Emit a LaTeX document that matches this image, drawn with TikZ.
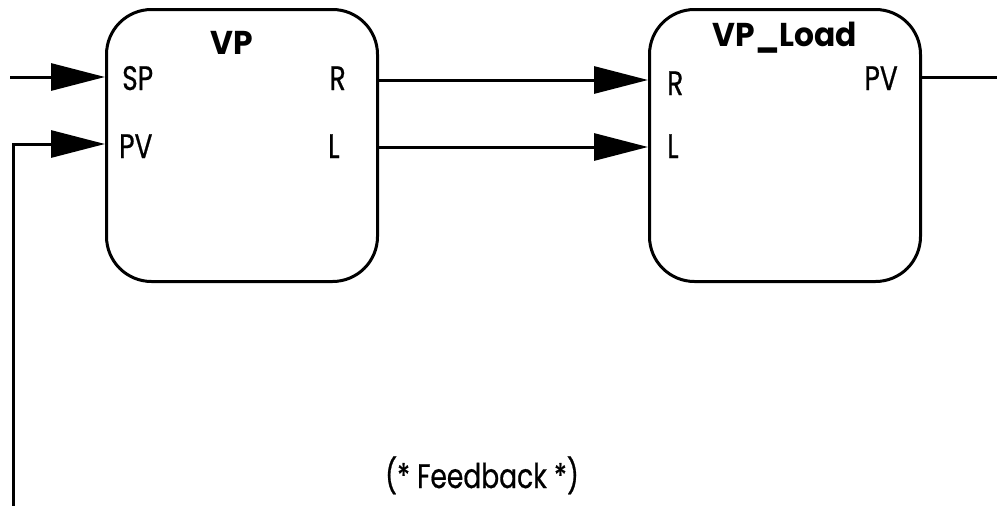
\documentclass[tikz,border=0pt]{standalone}
\usepackage{fontspec}
\setmainfont{Poppins}[FakeStretch=0.78,FakeBold=0.6]
\newfontfamily\titlef{Poppins}[FakeStretch=0.95]
\usetikzlibrary{arrows.meta}
\begin{document}
\begin{tikzpicture}[x=1pt,y=-1pt,
  fb/.style={draw,line width=3pt,rounded corners=45pt,minimum width=271pt,minimum height=272pt,inner sep=0pt},
  wire/.style={line width=3pt},
  arr/.style={wire,-{Triangle[length=54pt,width=27pt]}},
  port/.style={font=\fontsize{34}{34}\selectfont,inner sep=0pt},
  ttl/.style={font=\titlef\bfseries\fontsize{33}{33}\selectfont,inner sep=0pt}]
\useasboundingbox (0,0) rectangle (997,506);
\node[fb] (vp) at (242,145.5) {};
\node[fb] (vpl) at (785,145.5) {};
% titles
\node[ttl,anchor=base] (vpt) at (232,54) {VP};
\node[ttl,anchor=base] (vplt) at (785,46) {VP\_Load};
% port labels
\node[port,anchor=base west] (lsp) at (122,90) {SP};
\node[port,anchor=base west] (lpv) at (119,158) {PV};
\node[port,anchor=base east] (lr) at (346,90) {R};
\node[port,anchor=base west] (ll) at (328,158) {L};
\node[port,anchor=base west] (lr2) at (667,95) {R};
\node[port,anchor=base west] (ll2) at (667,158) {L};
\node[port,anchor=base east] (lpv2) at (898,90) {PV};
\node[port,anchor=base] (fbk) at (482,488) {(* Feedback *)};
% port coordinates
\coordinate (vpSP) at (vp.west |- 0,77);
\coordinate (vpPV) at (vp.west |- 0,144);
\coordinate (vpR) at (vp.east |- 0,80);
\coordinate (vpL) at (vp.east |- 0,147);
\coordinate (vplR) at (vpl.west |- 0,80);
\coordinate (vplL) at (vpl.west |- 0,147);
\coordinate (vplPV) at (vpl.east |- 0,77);
\coordinate (spin) at (10,77);
\coordinate (fbbot) at (13,506);
\coordinate (pvout) at (997,77);
% wires
\draw[arr] (spin) -- (vpSP);
\draw[arr] (fbbot) |- (vpPV);
\draw[arr] (vpR) -- (vplR);
\draw[arr] (vpL) -- (vplL);
\draw[wire] (vplPV) -- (pvout);
\end{tikzpicture}
\end{document}
